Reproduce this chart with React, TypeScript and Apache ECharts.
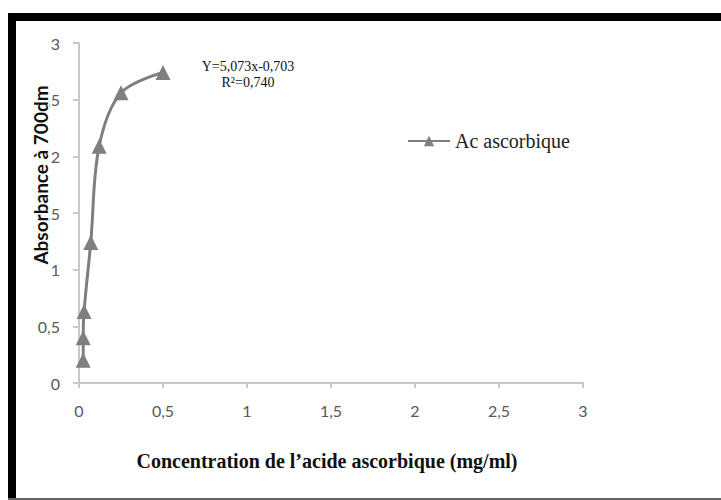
import React, { useEffect, useRef } from "react";
import * as echarts from "echarts";

const concentrations = [0.025, 0.025, 0.03, 0.07, 0.12, 0.25, 0.5];
const absorbances = [0.2, 0.4, 0.63, 1.24, 2.09, 2.56, 2.74];
const seriesName = "Ac ascorbique";
const xTitle = "Concentration de l\u2019acide ascorbique (mg/ml)";
const yTitle = "Absorbance à 700dm";
const equation = "Y=5,073x-0,703";
const r2 = "R\u00b2=0,740";

const fmt = (v: number) => String(v).replace(".", ",");

export default function App() {
  const ref = useRef<HTMLDivElement>(null);
  useEffect(() => {
    if (!ref.current) return;
    const chart = echarts.init(ref.current, undefined, { renderer: "svg" });
    const data = concentrations.map((c, i) => [c, absorbances[i]]);
    chart.setOption({
      animation: false,
      backgroundColor: "#ffffff",
      grid: { left: 79, right: 138, top: 43, bottom: 117, containLabel: false },
      legend: {
        data: [seriesName],
        left: 407,
        top: 131,
        padding: 0,
        itemWidth: 42,
        itemHeight: 13,
        itemGap: 4,
        textStyle: { fontFamily: "Liberation Serif", fontSize: 20, color: "#222" },
      },
      xAxis: {
        type: "value",
        min: 0,
        max: 3,
        interval: 0.5,
        axisLine: { show: true, lineStyle: { color: "#c8c8c8", width: 2 } },
        axisTick: { show: true, length: 5, lineStyle: { color: "#c8c8c8", width: 2 } },
        splitLine: { show: false },
        axisLabel: {
          margin: 19,
          fontFamily: "Lato",
          fontSize: 16,
          color: "#595959",
          formatter: (v: number) => fmt(v),
        },
      },
      yAxis: {
        type: "value",
        min: 0,
        max: 3,
        interval: 0.5,
        axisLine: { show: true, lineStyle: { color: "#c8c8c8", width: 2 } },
        axisTick: { show: true, length: 6, lineStyle: { color: "#c8c8c8", width: 2 } },
        splitLine: { show: false },
        axisLabel: {
          margin: 19,
          fontFamily: "Lato",
          fontSize: 16,
          color: "#595959",
          formatter: (v: number) => fmt(v),
        },
      },
      series: [
        {
          name: seriesName,
          type: "line",
          data,
          smooth: 0.35,
          symbol: "triangle",
          symbolSize: 15,
          itemStyle: { color: "#7f7f7f" },
          lineStyle: { color: "#7f7f7f", width: 3 },
        },
      ],
      graphic: [
        { type: "rect", z: 200, shape: { x: 8, y: 13, width: 713, height: 8 }, style: { fill: "#000" } },
        { type: "rect", z: 200, shape: { x: 8, y: 13, width: 8, height: 487 }, style: { fill: "#000" } },
        { type: "rect", z: 200, shape: { x: 8, y: 498, width: 713, height: 2 }, style: { fill: "#666" } },
        {
          type: "text",
          z: 150,
          x: 40,
          y: 175,
          rotation: Math.PI / 2,
          style: {
            text: yTitle,
            fontFamily: "Lato",
            fontWeight: "bold",
            fontSize: 19,
            fill: "#111",
            align: "center",
            verticalAlign: "middle",
            backgroundColor: "#fff",
            padding: [0, 2, 0, 2],
          },
        },
        {
          type: "text",
          z: 150,
          x: 248,
          y: 66,
          style: {
            text: equation,
            fontFamily: "Liberation Serif",
            fontSize: 14,
            fill: "#111",
            align: "center",
            verticalAlign: "middle",
          },
        },
        {
          type: "text",
          z: 150,
          x: 248,
          y: 82,
          style: {
            text: r2,
            fontFamily: "Liberation Serif",
            fontSize: 14,
            fill: "#111",
            align: "center",
            verticalAlign: "middle",
          },
        },
        {
          type: "text",
          z: 150,
          x: 327,
          y: 461,
          style: {
            text: xTitle,
            fontFamily: "Liberation Serif",
            fontWeight: "bold",
            fontSize: 20,
            fill: "#111",
            align: "center",
            verticalAlign: "middle",
          },
        },
      ],
    });
    return () => chart.dispose();
  }, []);
  return (
    <div
      ref={ref}
      style={{ position: "absolute", left: 0, top: 0, width: 721, height: 500 }}
    />
  );
}
